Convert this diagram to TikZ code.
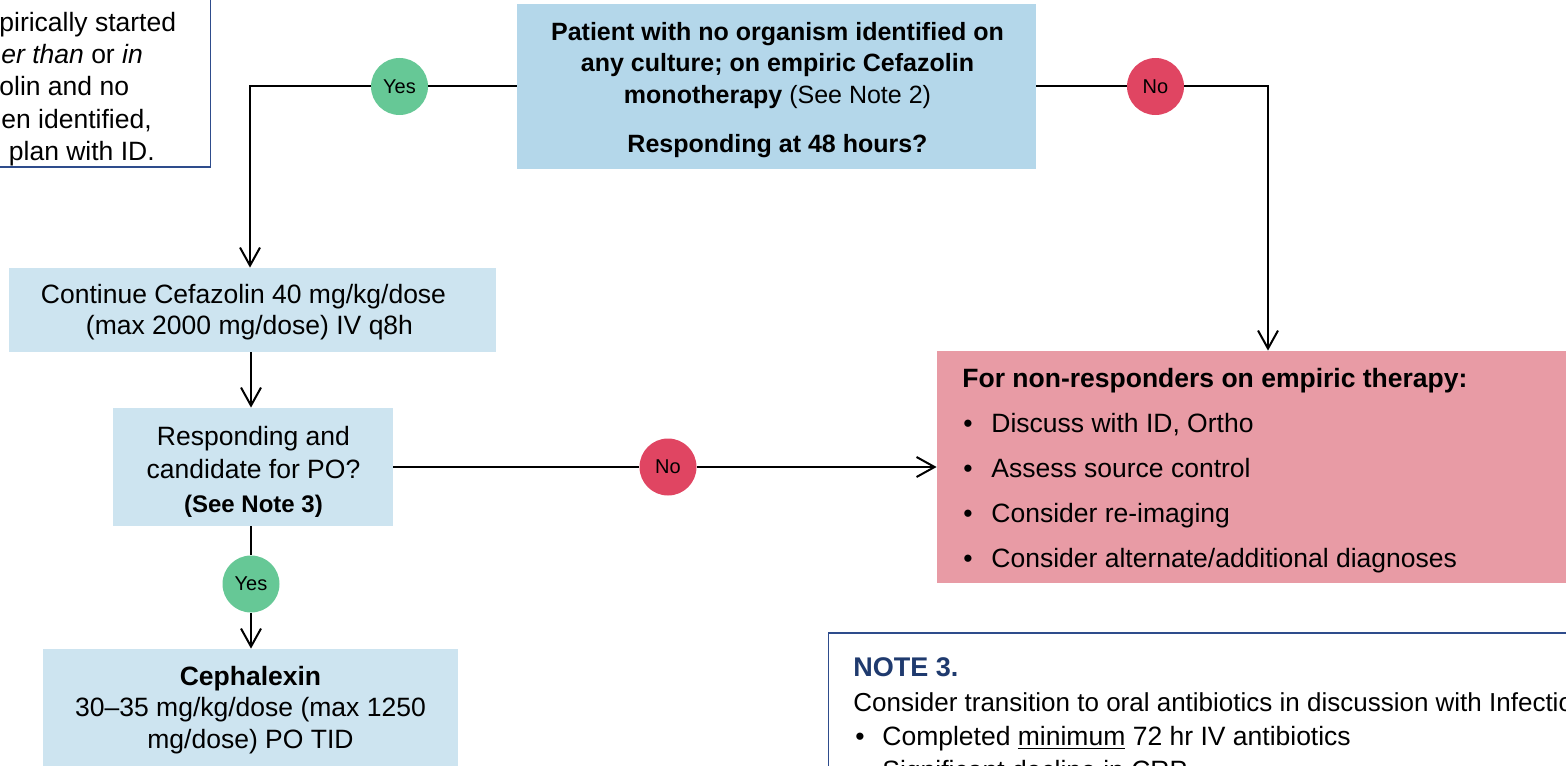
\documentclass[tikz,border=0pt]{standalone}
\usepackage{fontspec}
\setmainfont{Liberation Sans}
\usetikzlibrary{arrows.meta}
\definecolor{topblue}{HTML}{B4D7EA}
\definecolor{lightblue}{HTML}{CDE4F0}
\definecolor{pinkbox}{HTML}{E89BA5}
\definecolor{yesgreen}{HTML}{66C896}
\definecolor{nored}{HTML}{E04562}
\definecolor{navyhead}{HTML}{1F3A6E}
\definecolor{framebl}{HTML}{2E4C8C}
\newcommand{\fmain}{\fontsize{13.25}{15.75}\selectfont}
\begin{document}
\begin{tikzpicture}[x=0.5pt,y=-0.5pt,
  boxnode/.style={rectangle, inner sep=0pt},
  boxtext/.style={inner sep=0pt, align=center, font=\fmain},
  conn/.style={line width=1pt, -{Straight Barb[length=9pt,width=10pt]}},
  yesnode/.style={circle, fill=yesgreen, minimum size=28.5pt, inner sep=0pt, font=\fontsize{10}{12}\selectfont},
  nonode/.style={circle, fill=nored, minimum size=28.5pt, inner sep=0pt, font=\fontsize{10}{12}\selectfont},
  lefttext/.style={anchor=base west, inner sep=0pt, font=\fmain},
  notetext/.style={anchor=base west, inner sep=0pt, font=\fontsize{13.25}{17}\selectfont},
  framebox/.style={rectangle, draw=framebl, line width=0.75pt, fill=white, inner sep=0pt}
]
\useasboundingbox (0,0) rectangle (1566,765);
\clip (0,0) rectangle (1566,765);

% top-left note (cut off)
\node[framebox, minimum width=115.25pt, minimum height=93.5pt] (tl) at (95.25,73.5) {};
\node[lefttext] (t1) at (-1,32) {pirically started};
\node[lefttext] (t2) at (1,64) {\textit{er than} or \textit{in}};
\node[lefttext] (t3) at (-1,96) {olin and no};
\node[lefttext] (t4) at (1,128) {en identified,};
\node[lefttext] (t5) at (8.5,160) {plan with ID.};

% main boxes
\node[boxnode, fill=topblue, minimum width=259.5pt, minimum height=82pt] (top) at (776.5,86.5) {};
\node[boxtext, font=\fontsize{12.5}{15.75}\selectfont\bfseries] (topT) at (777.5,90)
  {Patient with no organism identified on\\any culture; on empiric Cefazolin\\monotherapy {\mdseries(See Note 2)}\\[8.75pt]Responding at 48 hours?};
\node[boxnode, fill=lightblue, minimum width=243.5pt, minimum height=42pt] (cont) at (252.5,310) {};
\node[boxtext] (contT) at (249.5,312)
  {Continue Cefazolin 40 mg/kg/dose\hspace*{6pt}\\(max 2000 mg/dose) IV q8h};
\node[boxnode, fill=lightblue, minimum width=140pt, minimum height=59pt] (resp) at (253,467) {};
\node[boxtext, font=\fontsize{13.25}{16.75}\selectfont] (respT) at (253.5,471.4)
  {Responding and\\candidate for PO?\\{\bfseries\fontsize{12}{16.75}\selectfont(See Note 3)}};
\node[boxnode, fill=lightblue, minimum width=207.5pt, minimum height=61.5pt] (ceph) at (250.5,710.5) {};
\node[boxtext] (cephT) at (250.5,709.7)
  {\textbf{Cephalexin}\\30–35 mg/kg/dose (max 1250\\mg/dose) PO TID};

% non-responders box
\node[boxnode, fill=pinkbox, minimum width=336.5pt, minimum height=116pt] (pink) at (1273.5,467) {};
\node[lefttext, font=\fmain\bfseries] (ph) at (962,387) {For non-responders on empiric therapy:};
\node[lefttext] (p1) at (963,432) {\makebox[14pt][l]{•}Discuss with ID, Ortho};
\node[lefttext] (p2) at (963,477) {\makebox[14pt][l]{•}Assess source control};
\node[lefttext] (p3) at (963,522) {\makebox[14pt][l]{•}Consider re-imaging};
\node[lefttext] (p4) at (963,567) {\makebox[14pt][l]{•}Consider alternate/additional diagnoses};

% note 3 (cut off)
\node[framebox, minimum width=395pt, minimum height=93.5pt] (note) at (1223.5,726.5) {};
\node[anchor=base west, inner sep=0pt, font=\fontsize{13.5}{16}\selectfont\bfseries, text=navyhead] (nh) at (853,676) {NOTE 3.};
\node[notetext, font=\fontsize{13}{17}\selectfont] (n1) at (853,711.5) {Consider transition to oral antibiotics in discussion with Infectio};
\node[notetext] (n2) at (855,745) {\makebox[13.5pt][l]{•}Completed \underline{minimum} 72 hr IV antibiotics};
\node[notetext] (n3) at (855,779) {\makebox[13.5pt][l]{•}Significant decline in CRP};

% decision circles
\node[yesnode] (yesA) at (399.5,86.5) {Yes};
\node[nonode] (noA) at (1155.5,86.5) {No};
\node[nonode] (noB) at (668,467) {No};
\node[yesnode] (yesB) at (251,584) {Yes};

\coordinate (c1) at (250,86.5);
\coordinate (c2) at (1268,86.5);

% connectors
\draw[conn] (top.west) -- (yesA) -- (c1) -- (c1 |- cont.north);
\draw[conn] (top.east) -- (noA) -- (c2) -- (c2 |- pink.north);
\draw[conn] (cont.south -| yesB) -- (resp.north -| yesB);
\draw[conn] (resp.east) -- (noB) -- (pink.west);
\draw[conn] (resp.south -| yesB) -- (yesB) -- (ceph.north -| yesB);
\end{tikzpicture}
\end{document}
